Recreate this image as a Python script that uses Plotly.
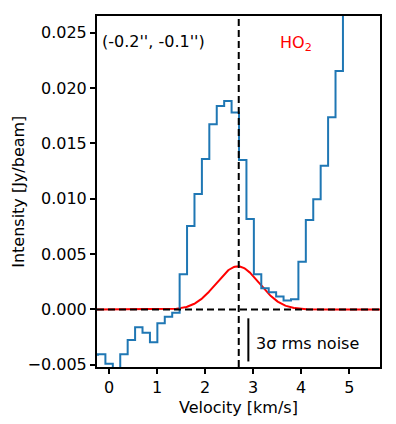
import numpy as np
import plotly.graph_objects as go

# channel spectrum (steps-mid), velocity in km/s
dv = 0.1545
v0 = -0.307
intensity = [
    -0.0041, -0.00405, -0.0049, -0.0058, -0.00405, -0.00276, -0.00161, -0.0021,
    -0.00296, -0.00125, -0.00065, -0.00029, 0.00318, 0.00754, 0.01043, 0.0136,
    0.01673, 0.01838, 0.01883, 0.01781, 0.0135, 0.00818, 0.00318, 0.00191,
    0.00155, 0.00116, 0.0008, 0.00092, 0.00432, 0.00808, 0.00995, 0.01299,
    0.01736, 0.02154, 0.029, 0.032, 0.034, 0.035, 0.033,
]
velocity = [v0 + i * dv for i in range(len(intensity))]

# HO2 model line
v_sys = 2.7
model_amp = 0.0039
model_center = 2.68
model_sigma = 0.45
v_model = np.linspace(-0.3, 5.7, 400)
model = model_amp * np.exp(-(v_model - model_center) ** 2 / (2 * model_sigma ** 2))

# 3 sigma noise bar
rms = 0.0013
noise_x = 2.9
noise_top = -0.0008

FONT = "DejaVu Sans"

fig = go.Figure()

fig.add_trace(go.Scatter(x=v_model, y=model, mode="lines",
                         line=dict(color="red", width=2), hoverinfo="skip"))
fig.add_trace(go.Scatter(x=velocity, y=intensity, mode="lines",
                         line=dict(color="#1f77b4", width=2, shape="hvh")))

fig.add_hline(y=0, line=dict(color="black", width=2, dash="7px,4px"))
fig.add_vline(x=v_sys, line=dict(color="black", width=2, dash="7px,4px"))
fig.add_shape(type="line", x0=noise_x, x1=noise_x, y0=noise_top, y1=noise_top - 3 * rms,
              line=dict(color="black", width=2))

fig.add_annotation(x=0.01, y=0.927, xref="paper", yref="paper", text="(-0.2'', -0.1'')",
                   showarrow=False, xanchor="left", yanchor="middle",
                   font=dict(family=FONT, size=16, color="black"))
fig.add_annotation(x=0.64, y=0.922, xref="paper", yref="paper", text="HO<sub>2</sub>",
                   showarrow=False, xanchor="left", yanchor="middle",
                   font=dict(family=FONT, size=16, color="red"))
fig.add_annotation(x=0.555, y=0.066, xref="paper", yref="paper", text="3σ rms noise",
                   showarrow=False, xanchor="left", yanchor="middle",
                   font=dict(family=FONT, size=16, color="black"))

# axis titles
fig.add_annotation(x=0.5, y=-0.114, xref="paper", yref="paper", text="Velocity [km/s]",
                   showarrow=False, xanchor="center", yanchor="middle",
                   font=dict(family=FONT, size=16, color="black"))
fig.add_annotation(x=-0.278, y=0.5, xref="paper", yref="paper", text="Intensity [Jy/beam]",
                   showarrow=False, xanchor="center", yanchor="middle", textangle=-90,
                   font=dict(family=FONT, size=16, color="black"))

axis_style = dict(showline=True, linecolor="black", linewidth=2, mirror=True,
                  ticks="outside", ticklen=5, tickwidth=1.5, tickcolor="black",
                  showgrid=False, zeroline=False, automargin=False,
                  tickfont=dict(family=FONT, size=16, color="black"))

fig.update_xaxes(range=[-0.25, 5.64], tickvals=[0, 1, 2, 3, 4, 5], **axis_style)
fig.update_yaxes(range=[-0.0052, 0.02652], tickvals=[-0.005, 0, 0.005, 0.01, 0.015, 0.02, 0.025],
                 tickformat=".3f", **axis_style)

fig.update_layout(width=396, height=424, showlegend=False,
                  plot_bgcolor="white", paper_bgcolor="white",
                  margin=dict(l=97, r=16, t=16, b=57))

fig.write_html("out.html", config={"displayModeBar": False},
               post_script="document.body.style.margin='0';")
